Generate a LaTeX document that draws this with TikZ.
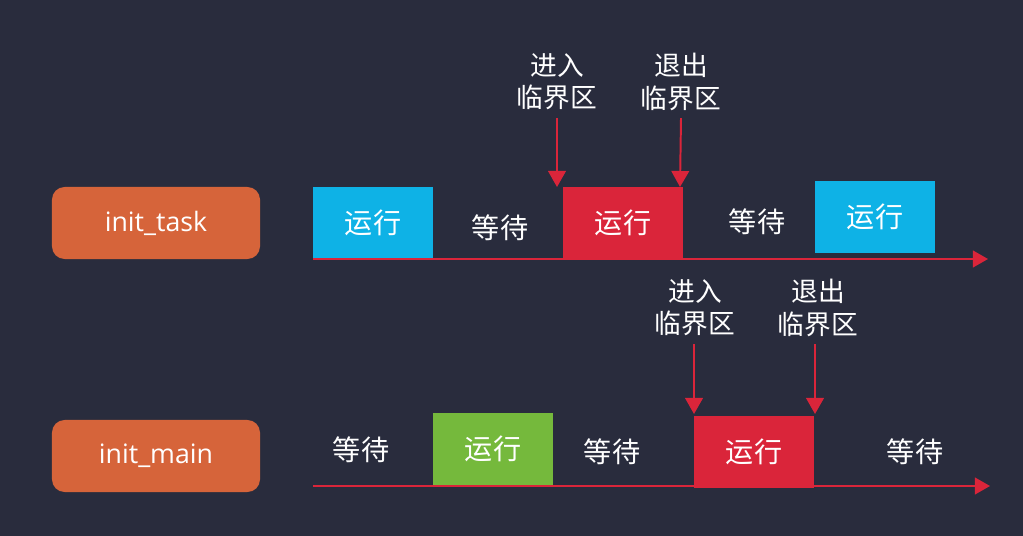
\documentclass[tikz,border=0pt]{standalone}
\usepackage{fontspec}
\setmainfont{Open Sans}
\newfontfamily\cjk{Noto Sans CJK SC}
\usetikzlibrary{arrows.meta,positioning}
\definecolor{bg}{RGB}{41,44,61}
\definecolor{thread}{RGB}{214,100,58}
\definecolor{runblue}{RGB}{14,178,230}
\definecolor{rungreen}{RGB}{117,185,60}
\definecolor{crit}{RGB}{218,37,58}
\tikzset{
  every picture/.style={x=0.025cm, y=-0.025cm},
  thr/.style={fill=thread, rounded corners=9pt, minimum width=5.2cm, minimum height=1.8cm,
    text=white, font=\fontsize{19}{22}\selectfont},
  slot/.style={minimum width=3cm, minimum height=1.8cm, inner sep=0pt, text=white,
    font=\cjk\fontsize{20}{24}\selectfont},
  wait/.style={text=white, font=\cjk\fontsize{20}{24}\selectfont},
  tag/.style={text=white, align=center, inner sep=1pt, font=\cjk\fontsize{19}{23}\selectfont},
  timeline/.style={draw=crit, line width=1.4pt, -{Triangle[length=0.38cm,width=0.42cm]}},
  hit/.style={draw=crit, line width=1.4pt, -{Triangle[length=0.4cm,width=0.44cm]}},
}
\begin{document}
\begin{tikzpicture}
  \fill[bg] (0,0) rectangle (1023,536);
  \useasboundingbox (0,0) rectangle (1023,536);
  % two threads, one timeline each
  \node[thr] (task) at (156,223) {init\_task};
  \node[thr] (main) at (156,456) {init\_main};

  % init_task
  \node[slot, fill=runblue] (taskA) at (373,223) {运行};
  \node[wait] (taskW1) at (500,228) {等待};
  \node[slot, fill=crit] (taskB) at (623,223) {运行};
  \node[wait] (taskW2) at (757,222) {等待};
  \node[slot, fill=runblue] (taskC) at (875,217) {运行};
  \coordinate (taskS) at (313,259);
  \coordinate (taskE) at (988,259);
  \draw[timeline] (taskS) -- (taskE);

  \node[tag] (taskIn) at (557,82) {进入\\临界区};
  \node[tag] (taskOut) at (681,82) {退出\\临界区};
  \coordinate (taskInEnd) at (557,187);
  \coordinate (taskOutEnd) at (680,187);
  \draw[hit] (taskIn.south) ++(0,6) -- (taskInEnd);
  \draw[hit] ([yshift=-0.15cm]taskOut.south) -- (taskOutEnd);

  % init_main
  \node[wait] (mainW1) at (361,450) {等待};
  \node[slot, fill=rungreen] (mainA) at (493,449) {运行};
  \node[wait] (mainW2) at (612,452) {等待};
  \node[slot, fill=crit] (mainB) at (754,452) {运行};
  \node[wait] (mainW3) at (915,452) {等待};
  \coordinate (mainS) at (313,486);
  \coordinate (mainE) at (990,486);
  \draw[timeline] (mainS) -- (mainE);

  \node[tag] (mainIn) at (695,308) {进入\\临界区};
  \node[tag] (mainOut) at (818,308) {退出\\临界区};
  \coordinate (mainInEnd) at (694,414);
  \coordinate (mainOutEnd) at (815,414);
  \draw[hit] ([yshift=-0.15cm]mainIn.south -| mainInEnd) -- (mainInEnd);
  \draw[hit] ([yshift=-0.15cm]mainOut.south -| mainOutEnd) -- (mainOutEnd);
\end{tikzpicture}
\end{document}
